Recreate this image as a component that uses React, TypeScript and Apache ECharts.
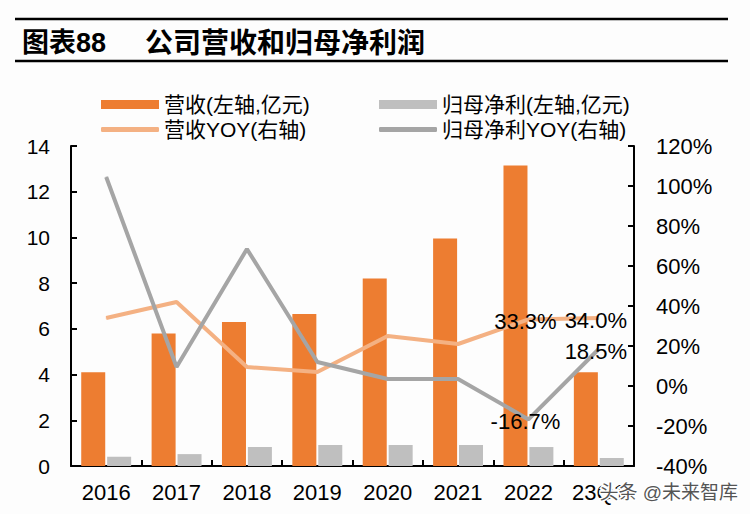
import React, { useEffect, useRef } from "react";
import * as echarts from "echarts";

const categories = ["2016", "2017", "2018", "2019", "2020", "2021", "2022", "23Q1"];
const revenue = [4.1, 5.8, 6.3, 6.65, 8.2, 9.95, 13.15, 4.1];
const netProfit = [0.4, 0.52, 0.83, 0.92, 0.92, 0.92, 0.83, 0.35];
const revenueYoy = [34, 42, 9.5, 7, 25, 21, 33.3, 34.0];
const netProfitYoy = [104.5, 9.5, 68.5, 12, 3.5, 3.5, -16.7, 18.5];
const labelledIdx = [6, 7];
const leftTicks = { min: 0, max: 14, interval: 2 };
const rightTicks = { min: -40, max: 120, interval: 20 };

const FONT = "'Liberation Sans', Arial, 'Noto Sans CJK SC', sans-serif";

export default function App() {
  const ref = useRef<HTMLDivElement>(null);
  useEffect(() => {
    const chart = echarts.init(ref.current!, null, { renderer: "svg" });
    const labelFor = (i: number) =>
      labelledIdx.includes(i)
        ? { show: true, position: "inside", offset: [-3, 2], color: "#000", fontSize: 22, fontFamily: FONT, formatter: (p: any) => p.value.toFixed(1) + "%" }
        : { show: false };
    const axisLine = { show: true, lineStyle: { color: "#000", width: 2 } };
    const legendBase = { itemWidth: 58, textStyle: { fontSize: 21, color: "#000", fontFamily: FONT }, itemGap: 10, selectedMode: false };
    chart.setOption({
      animation: false,
      backgroundColor: "#fdfdfd",
      textStyle: { fontFamily: FONT },
      grid: { left: 71, right: 116, top: 146, bottom: 48 },
      graphic: [
        { type: "line", shape: { x1: 15, y1: 19, x2: 728, y2: 19 }, style: { stroke: "#000", lineWidth: 2.5 } },
        { type: "line", shape: { x1: 15, y1: 61, x2: 728, y2: 61 }, style: { stroke: "#000", lineWidth: 2.5 } },
        { type: "text", left: 22, top: 29, style: { text: "图表88", fontSize: 27, fontWeight: "bold", fill: "#000", fontFamily: FONT } },
        { type: "text", left: 145, top: 29, style: { text: "公司营收和归母净利润", fontSize: 28, fontWeight: "bold", fill: "#000", fontFamily: FONT } },
        { type: "text", left: 598, top: 481, z: 100, style: { text: "头条 @未来智库", fontSize: 19, fill: "#555", stroke: "#fff", lineWidth: 3, fontFamily: FONT } },
      ],
      legend: [
        { ...legendBase, left: 96, top: 89, itemHeight: 9, data: [{ name: "营收(左轴,亿元)", icon: "rect" }] },
        { ...legendBase, left: 374, top: 89, itemHeight: 9, data: [{ name: "归母净利(左轴,亿元)", icon: "rect" }] },
        { ...legendBase, left: 96, top: 114, itemHeight: 5, data: [{ name: "营收YOY(右轴)", icon: "roundRect" }] },
        { ...legendBase, left: 374, top: 114, itemHeight: 5, data: [{ name: "归母净利YOY(右轴)", icon: "roundRect" }] },
      ],
      xAxis: {
        type: "category",
        data: categories,
        axisLine,
        axisTick: { show: true, inside: true, length: 6, lineStyle: { color: "#000", width: 2 } },
        axisLabel: { fontSize: 22, color: "#000", margin: 15, fontFamily: FONT },
      },
      yAxis: [
        {
          type: "value", ...leftTicks,
          axisLine, splitLine: { show: false },
          axisTick: { show: true, inside: true, length: 6, lineStyle: { color: "#000", width: 2 } },
          axisLabel: { fontSize: 21, color: "#000", margin: 21, fontFamily: FONT },
        },
        {
          type: "value", ...rightTicks,
          axisLine, splitLine: { show: false },
          axisTick: { show: true, inside: true, length: 6, lineStyle: { color: "#000", width: 2 } },
          axisLabel: { fontSize: 22, color: "#000", margin: 22, fontFamily: FONT, formatter: "{value}%" },
        },
      ],
      series: [
        { name: "营收(左轴,亿元)", type: "bar", data: revenue, barWidth: 24, barGap: "8%", itemStyle: { color: "#ED7D31" } },
        { name: "归母净利(左轴,亿元)", type: "bar", data: netProfit, barWidth: 24, barGap: "8%", itemStyle: { color: "#BFBFBF" } },
        {
          name: "营收YOY(右轴)", type: "line", yAxisIndex: 1, symbol: "circle", symbolSize: 1,
          lineStyle: { color: "#F4B183", width: 4 }, itemStyle: { color: "#F4B183" },
          data: revenueYoy.map((v, i) => ({ value: v, label: labelFor(i) })),
        },
        {
          name: "归母净利YOY(右轴)", type: "line", yAxisIndex: 1, symbol: "circle", symbolSize: 1,
          lineStyle: { color: "#A5A5A5", width: 4 }, itemStyle: { color: "#A5A5A5" },
          data: netProfitYoy.map((v, i) => ({ value: v, label: labelFor(i) })),
        },
      ],
    });
    return () => chart.dispose();
  }, []);
  return <div ref={ref} style={{ width: 750, height: 514, position: "fixed", left: 0, top: 0 }} />;
}
